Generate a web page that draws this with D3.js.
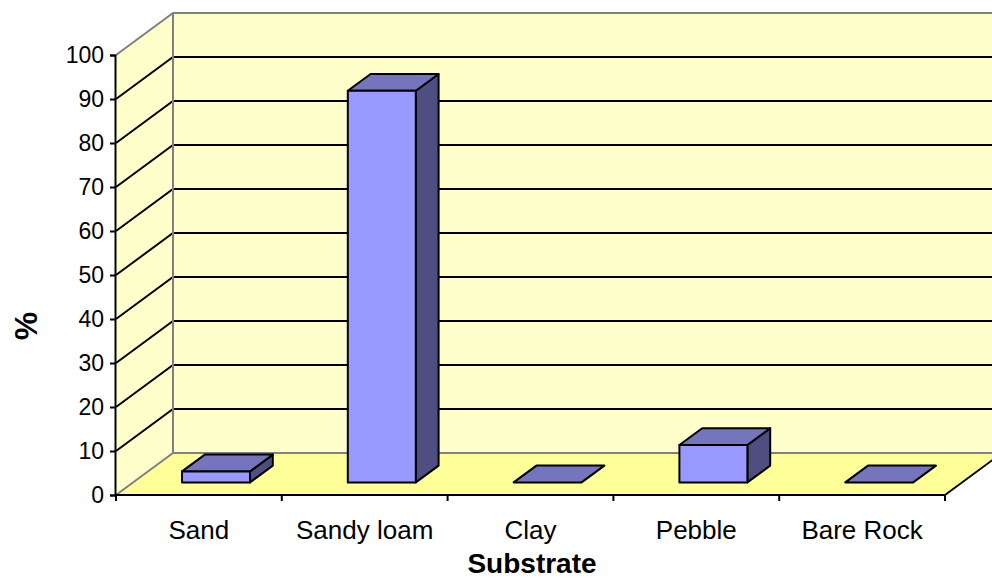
<!DOCTYPE html>
<html>
<head>
<meta charset="utf-8">
<script src="https://cdn.jsdelivr.net/npm/d3@7"></script>
<style>
  body { margin: 0; background: #fff; }
  text { font-family: "Liberation Sans", Arial, sans-serif; fill: #000; }
</style>
</head>
<body>
<div id="chart"></div>
<script>
var categories = ["Sand", "Sandy loam", "Clay", "Pebble", "Bare Rock"];
var values = [2.5, 89, 0, 8.5, 0];
var yTicks = [0, 10, 20, 30, 40, 50, 60, 70, 80, 90, 100];

var width = 992, height = 580;
var plotLeft = 116, plotRight = 945, plotBottom = 495, plotTop = 55;
var depthX = 57, depthY = -42;   // full depth of the 3d box
var barFront = 0.3, barBack = 0.7;

var svg = d3.select("#chart").append("svg")
    .attr("width", width)
    .attr("height", height);

var y = d3.scaleLinear().domain([0, 100]).range([plotBottom, plotTop]);
var x = d3.scaleBand().domain(categories).range([plotLeft, plotRight])
    .paddingInner(0.59).paddingOuter(0.295);

// point at depth d (0 = front, 1 = back)
function p(px, py, d) {
    return [px + d * depthX, py + d * depthY];
}
function poly(pts) {
    return pts.map(q => q.join(",")).join(" ");
}
var farRight = plotRight + 200;

// back wall
svg.append("polygon")
    .attr("points", poly([p(plotLeft, y(0), 1), p(farRight, y(0), 1), p(farRight, y(100), 1), p(plotLeft, y(100), 1)]))
    .attr("fill", "#ffffcc");
// side wall
svg.append("polygon")
    .attr("points", poly([p(plotLeft, y(0), 0), p(plotLeft, y(0), 1), p(plotLeft, y(100), 1), p(plotLeft, y(100), 0)]))
    .attr("fill", "#ffffcc");
// floor
svg.append("polygon")
    .attr("points", poly([p(plotLeft, y(0), 0), p(plotRight, y(0), 0), p(plotRight, y(0), 1), p(plotLeft, y(0), 1)]))
    .attr("fill", "#ffff99");

// gridlines
var inner = yTicks.filter(t => t > 0 && t < 100);
svg.selectAll(".grid").data(inner).enter().append("polyline")
    .attr("points", t => poly([p(plotLeft, y(t), 0), p(plotLeft, y(t), 1), p(farRight, y(t), 1)]))
    .attr("fill", "none")
    .attr("stroke", "#000")
    .attr("stroke-width", 2);

// wall borders
var grey = "#808080";
svg.append("polyline")
    .attr("points", poly([p(plotLeft, y(100), 0), p(plotLeft, y(100), 1), p(farRight, y(100), 1)]))
    .attr("fill", "none").attr("stroke", grey).attr("stroke-width", 2);
svg.append("polyline")
    .attr("points", poly([p(plotLeft, y(0), 0), p(plotLeft, y(0), 1), p(farRight, y(0), 1)]))
    .attr("fill", "none").attr("stroke", grey).attr("stroke-width", 2);
svg.append("line")
    .attr("x1", p(plotLeft, 0, 1)[0]).attr("x2", p(plotLeft, 0, 1)[0])
    .attr("y1", p(0, y(0), 1)[1]).attr("y2", p(0, y(100), 1)[1])
    .attr("stroke", grey).attr("stroke-width", 2);
// floor right edge
svg.append("line")
    .attr("x1", plotRight).attr("y1", y(0))
    .attr("x2", p(plotRight, y(0), 1)[0]).attr("y2", p(plotRight, y(0), 1)[1])
    .attr("stroke", "#000").attr("stroke-width", 2);

// bars
var bars = svg.selectAll(".bar").data(categories).enter().append("g");
bars.each(function (c, i) {
    var g = d3.select(this);
    var x0 = x(c), x1 = x(c) + x.bandwidth();
    var yv = y(values[i]), y0 = y(0);
    if (values[i] > 0) {
        g.append("polygon")
            .attr("points", poly([p(x1, yv, barFront), p(x1, y0, barFront), p(x1, y0, barBack), p(x1, yv, barBack)]))
            .attr("fill", "#4e4e80").attr("stroke", "#000").attr("stroke-width", 2).attr("stroke-linejoin", "round");
    }
    g.append("polygon")
        .attr("points", poly([p(x0, yv, barFront), p(x1, yv, barFront), p(x1, yv, barBack), p(x0, yv, barBack)]))
        .attr("fill", "#7575bd").attr("stroke", "#000").attr("stroke-width", 2).attr("stroke-linejoin", "round");
    if (values[i] > 0) {
        g.append("polygon")
            .attr("points", poly([p(x0, yv, barFront), p(x1, yv, barFront), p(x1, y0, barFront), p(x0, y0, barFront)]))
            .attr("fill", "#9999ff").attr("stroke", "#000").attr("stroke-width", 2).attr("stroke-linejoin", "round");
    }
});

// value axis
var yAxis = svg.append("g")
    .attr("transform", "translate(" + (plotLeft - 1) + ",0)")
    .call(d3.axisLeft(y).tickValues(yTicks).tickSize(5).tickPadding(6));
yAxis.select(".domain").attr("stroke", "#000").attr("stroke-width", 2);
yAxis.selectAll(".tick line").attr("stroke", "#000").attr("stroke-width", 2);
yAxis.selectAll(".tick text").style("font-size", "23px")
    .style("font-family", "Liberation Sans, Arial, sans-serif").attr("fill", "#000");

// category axis
svg.append("line")
    .attr("x1", plotLeft - 1).attr("x2", plotRight).attr("y1", plotBottom).attr("y2", plotBottom)
    .attr("stroke", "#000").attr("stroke-width", 2);
var bounds = d3.range(categories.length + 1).map(k => plotLeft + k * x.step());
svg.selectAll(".xtick").data(bounds).enter().append("line")
    .attr("x1", d => d).attr("x2", d => d)
    .attr("y1", plotBottom).attr("y2", plotBottom + 6)
    .attr("stroke", "#000").attr("stroke-width", 2);
svg.selectAll(".xlab").data(categories).enter().append("text")
    .attr("x", c => x(c) + x.bandwidth() / 2)
    .attr("y", 539)
    .attr("text-anchor", "middle")
    .style("font-size", "26px")
    .text(c => c);

// axis titles
svg.append("text")
    .attr("x", 532).attr("y", 573)
    .attr("text-anchor", "middle")
    .style("font-size", "28px").style("font-weight", "bold")
    .text("Substrate");
svg.append("text")
    .attr("transform", "translate(37,326) rotate(-90)")
    .attr("text-anchor", "middle")
    .style("font-size", "32px").style("font-weight", "bold")
    .text("%");
</script>
</body>
</html>
